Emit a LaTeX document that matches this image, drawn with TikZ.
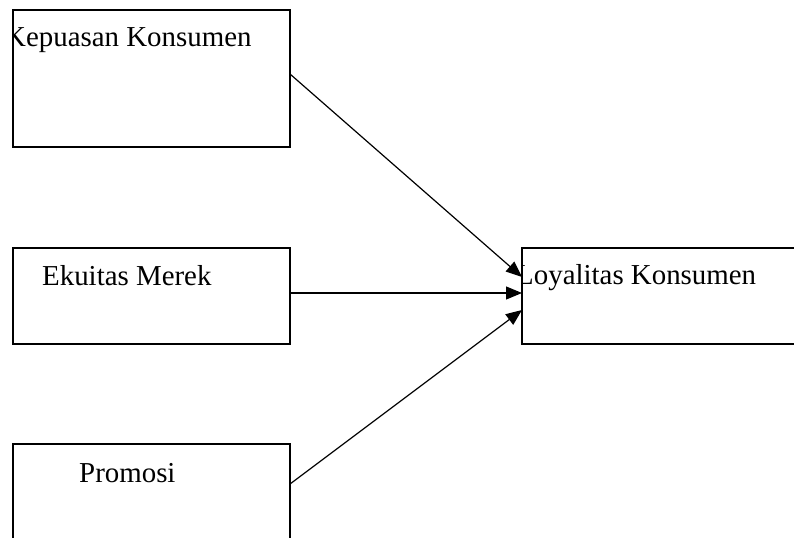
\documentclass[tikz,border=0pt]{standalone}
\usepackage{fontspec}
\setmainfont{Liberation Serif}
\usetikzlibrary{arrows.meta}
\begin{document}
\begin{tikzpicture}[x=1bp,y=-1bp,
  box/.style={draw, line width=1.3bp, rectangle, inner sep=0pt, outer sep=0pt},
  lbl/.style={anchor=base west, inner sep=0pt, font=\fontsize{29}{34}\selectfont},
  link/.style={line width=1.2bp, -{Triangle[length=16bp,width=13bp]}}]
\useasboundingbox (0,0) rectangle (794,538);
\clip (0,0) rectangle (794,538);
\node[box, minimum width=277bp, minimum height=137bp] (b1) at (151.5,78.5) {};
\node[box, minimum width=277bp, minimum height=96bp] (b2) at (151.5,296) {};
\node[box, minimum width=277bp, minimum height=96bp] (b3) at (151.5,492) {};
\node[box, minimum width=278bp, minimum height=96bp] (b4) at (661,296) {};
\begin{scope}
  \clip (b1.south west) rectangle (b1.north east);
  \node[lbl] (t1) at (5,47) {Kepuasan Konsumen};
\end{scope}
\begin{scope}
  \clip (b2.south west) rectangle (b2.north east);
  \node[lbl] (t2) at (42,286) {Ekuitas Merek};
\end{scope}
\begin{scope}
  \clip (b3.south west) rectangle (b3.north east);
  \node[lbl] (t3) at (79,482) {Promosi};
\end{scope}
\begin{scope}
  \clip (b4.south west) rectangle (b4.north east);
  \node[lbl] (t4) at (516,285) {Loyalitas Konsumen};
\end{scope}
\draw[link] ([yshift=4.5bp]b1.east) -- ([yshift=19bp]b4.west);
\draw[link] ([yshift=3bp]b2.east) -- ([yshift=3bp]b4.west);
\draw[link] ([yshift=8bp]b3.east) -- ([yshift=-14bp]b4.west);
\end{tikzpicture}
\end{document}
